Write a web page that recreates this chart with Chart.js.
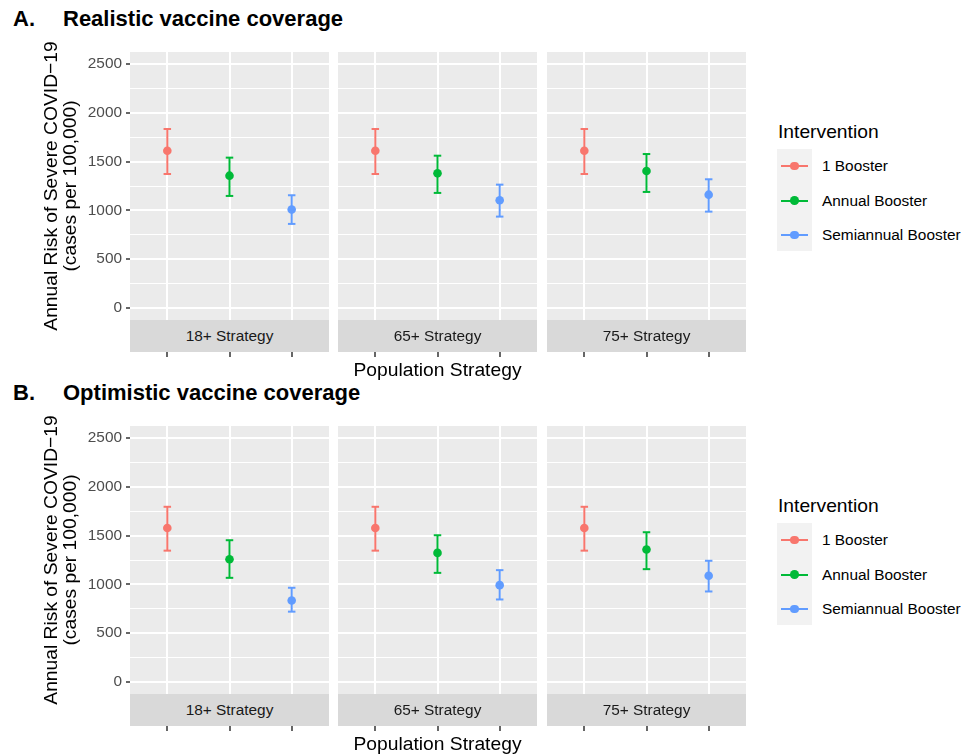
<!DOCTYPE html>
<html>
<head>
<meta charset="utf-8">
<script src="https://cdn.jsdelivr.net/npm/chart.js@4.4.0/dist/chart.umd.min.js"></script>
<style>
body { margin: 0; background: #fff; font-family: "Liberation Sans", Arial, Helvetica, sans-serif; }
#page { position: relative; width: 961px; height: 754px; overflow: hidden; }
canvas { position: absolute; }
.abs { position: absolute; white-space: nowrap; }
.ptitle { font-weight: bold; font-size: 22px; line-height: 22px; color: #000; }
.strip { position: absolute; background: #D9D9D9; color: #1A1A1A; font-size: 15.4px; height: 32px;
  display: flex; align-items: center; justify-content: center; z-index: 2; }
.ltitle { font-size: 19.25px; line-height: 19.25px; color: #000; }
.keybox { position: absolute; background: #F2F2F2; width: 35px; }
.keyline { position: absolute; height: 2px; }
.keydot { position: absolute; width: 8.6px; height: 8.6px; border-radius: 50%; }
.llabel { font-size: 15.4px; line-height: 18px; color: #000; }
</style>
</head>
<body>
<div id="page"></div>
<script>
// categories
const strategies = ['18+ Strategy', '65+ Strategy', '75+ Strategy'];
const interventions = ['1 Booster', 'Annual Booster', 'Semiannual Booster'];
const yTicks = [0, 500, 1000, 1500, 2000, 2500];

// A. realistic coverage: one row per strategy, one value per intervention
const realisticMean = [[1612, 1356, 1008], [1612, 1380, 1104], [1612, 1404, 1161]];
const realisticLow  = [[1373, 1148, 861],  [1373, 1179, 936],  [1373, 1189, 987]];
const realisticHigh = [[1835, 1541, 1155], [1835, 1561, 1264], [1835, 1578, 1319]];

// B. optimistic coverage
const optimisticMean = [[1578, 1258, 835], [1578, 1323, 992],  [1578, 1357, 1088]];
const optimisticLow  = [[1346, 1067, 720], [1346, 1118, 845],  [1346, 1156, 927]];
const optimisticHigh = [[1796, 1453, 965], [1796, 1504, 1146], [1796, 1535, 1242]];

const colors = ['#F8766D', '#00BA38', '#619CFF'];

// layout
const facetLeft = [130, 338, 547];
const FACET_W = 199;
const PANEL_H = 268;
const X_AXIS_H = 60;
const Y_AXIS_W = 100;
const PAD_TOP = 22; // room above the panel so the long y title is not clipped

const page = document.getElementById('page');

// minor gridlines halfway between the major ones
const allYTicks = [];
yTicks.forEach((v, i) => {
    allYTicks.push(v);
    if (i < yTicks.length - 1) allYTicks.push((v + yTicks[i + 1]) / 2);
});

const panelBg = {
    id: 'panelBg',
    beforeDraw(chart) {
        const a = chart.chartArea;
        const c = chart.ctx;
        c.save();
        c.fillStyle = '#EBEBEB';
        c.fillRect(a.left, a.top, a.right - a.left, a.bottom - a.top);
        c.restore();
    }
};

function addText(cls, text, left, top) {
    const d = document.createElement('div');
    d.className = 'abs ' + cls;
    d.textContent = text;
    d.style.left = left + 'px';
    d.style.top = top + 'px';
    page.appendChild(d);
    return d;
}

function makeFacet(top, f, mean, low, high) {
    const first = f === 0;
    const axisW = first ? Y_AXIS_W : 0;
    const w = axisW + FACET_W;
    const h = PAD_TOP + PANEL_H + X_AXIS_H;
    const canvas = document.createElement('canvas');
    canvas.width = w;
    canvas.height = h;
    canvas.style.left = (facetLeft[f] - axisW) + 'px';
    canvas.style.top = (top - PAD_TOP) + 'px';
    canvas.style.width = w + 'px';
    canvas.style.height = h + 'px';
    page.appendChild(canvas);

    const datasets = [];
    interventions.forEach((name, i) => {
        datasets.push({
            label: name,
            data: [{ x: i + 1, y: mean[i] }],
            order: 0,
            pointRadius: 4.3,
            pointBackgroundColor: colors[i],
            pointBorderColor: colors[i],
            pointBorderWidth: 0
        });
        datasets.push({
            label: name + ' range',
            data: [{ x: i + 1, y: low[i] }, { x: i + 1, y: high[i] }],
            order: 1,
            showLine: true,
            borderColor: colors[i],
            borderWidth: 2,
            pointStyle: 'line',
            pointRadius: 3.75,
            pointBorderColor: colors[i],
            pointBorderWidth: 2
        });
    });

    new Chart(canvas, {
        type: 'scatter',
        data: { datasets: datasets },
        plugins: [panelBg],
        options: {
            responsive: false,
            devicePixelRatio: 1,
            animation: false,
            events: [],
            layout: { autoPadding: false, padding: { top: PAD_TOP, left: 0, right: 0, bottom: 0 } },
            plugins: { legend: { display: false }, tooltip: { enabled: false } },
            scales: {
                x: {
                    type: 'linear',
                    min: 0.4,
                    max: 3.6,
                    afterBuildTicks: s => { s.ticks = interventions.map((_, i) => ({ value: i + 1 })); },
                    afterFit: s => { s.height = X_AXIS_H; s.paddingLeft = 0; s.paddingRight = 0; },
                    border: { display: false },
                    grid: { color: '#fff', lineWidth: 2, tickLength: 37, tickColor: '#333', tickWidth: 1.5 },
                    ticks: { display: false },
                    title: {
                        display: f === 1,
                        text: 'Population Strategy',
                        color: '#000',
                        font: { size: 19.25, lineHeight: 1 },
                        padding: { top: 0, bottom: 0 }
                    }
                },
                y: {
                    min: -125,
                    max: 2625,
                    afterBuildTicks: s => { s.ticks = allYTicks.map(v => ({ value: v })); },
                    afterFit: s => { s.width = axisW; s.paddingTop = 0; s.paddingBottom = 0; },
                    border: { display: false },
                    grid: {
                        color: '#fff',
                        lineWidth: c => yTicks.includes(c.tick.value) ? 2 : 1,
                        drawTicks: first,
                        tickLength: 4,
                        tickColor: c => yTicks.includes(c.tick.value) ? '#333' : 'rgba(0,0,0,0)',
                        tickWidth: 1.5
                    },
                    ticks: {
                        display: first,
                        padding: 4,
                        color: '#4D4D4D',
                        font: { size: 15.4 },
                        callback: v => yTicks.includes(v) ? String(v) : ''
                    },
                    title: {
                        display: first,
                        text: ['Annual Risk of Severe COVID\u221219', '(cases per 100,000)'],
                        color: '#000',
                        font: { size: 19.25, lineHeight: 1 },
                        padding: { top: 12, bottom: 0 }
                    }
                }
            }
        }
    });

    const strip = document.createElement('div');
    strip.className = 'strip';
    strip.textContent = strategies[f];
    strip.style.left = facetLeft[f] + 'px';
    strip.style.top = (top + PANEL_H) + 'px';
    strip.style.width = FACET_W + 'px';
    page.appendChild(strip);
}

function makeLegend(dy) {
    addText('ltitle', 'Intervention', 778, 122 + dy);
    const box = document.createElement('div');
    box.className = 'keybox';
    box.style.left = '777px';
    box.style.top = (149 + dy) + 'px';
    box.style.height = '102px';
    page.appendChild(box);
    interventions.forEach((name, i) => {
        const cy = 166 + dy + i * 34.5;
        const line = document.createElement('div');
        line.className = 'keyline';
        line.style.background = colors[i];
        line.style.left = '781px';
        line.style.width = '27px';
        line.style.top = (cy - 1) + 'px';
        page.appendChild(line);
        const dot = document.createElement('div');
        dot.className = 'keydot';
        dot.style.background = colors[i];
        dot.style.left = (794.5 - 4.3) + 'px';
        dot.style.top = (cy - 4.3) + 'px';
        page.appendChild(dot);
        addText('llabel', name, 822, cy - 9);
    });
}

function makePanel(top, label, title, mean, low, high) {
    addText('ptitle', label, 13, top - 44);
    addText('ptitle', title, 63, top - 44);
    strategies.forEach((_, f) => makeFacet(top, f, mean[f], low[f], high[f]));
    makeLegend(top - 52);
}

makePanel(52, 'A.', 'Realistic vaccine coverage', realisticMean, realisticLow, realisticHigh);
makePanel(426, 'B.', 'Optimistic vaccine coverage', optimisticMean, optimisticLow, optimisticHigh);
</script>
</body>
</html>
